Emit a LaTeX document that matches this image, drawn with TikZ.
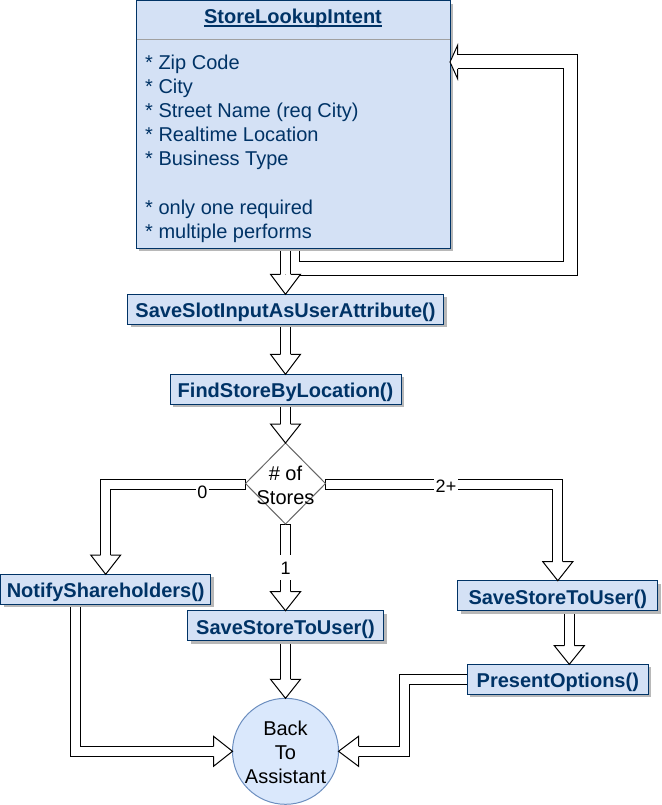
\documentclass[tikz,border=0pt]{standalone}
\usepackage{fontspec}
\setmainfont{Liberation Sans}
\usetikzlibrary{calc,shapes.geometric,shadows}
\definecolor{boxfill}{HTML}{D4E1F5}
\definecolor{boxline}{HTML}{003366}
\definecolor{ellfill}{HTML}{DAE8FC}
\definecolor{ellline}{HTML}{6C8EBF}
\definecolor{shade}{HTML}{B8B8B8}
\definecolor{diamline}{HTML}{666666}
\definecolor{sepline}{HTML}{A0A0A0}
\pgfdeclarelayer{arrowlayer}
\pgfsetlayers{arrowlayer,main}
% #1 tip, #2 rotation, #3 length, #4 half width, #5 shaft half width
\newcommand\fhead[5]{%
  \fill[white,shift={#1},rotate=#2] (0,0) -- (-#3,#4) -- (-#3,-#4) -- cycle;
  \draw[headline,shift={#1},rotate=#2] (-#3,#5) -- (-#3,#4) -- (0,0) -- (-#3,-#4) -- (-#3,-#5);}
\begin{document}
\begin{tikzpicture}[x=1pt,y=-1pt,
  shadowed/.style={drop shadow={shadow xshift=3pt,shadow yshift=-3pt,fill=shade,opacity=1}},
  procbox/.style={rectangle,draw=boxline,fill=boxfill,line width=1pt,text=boxline,
    font=\fontsize{20pt}{24pt}\selectfont\bfseries,minimum height=30pt,inner sep=0pt,
    outer sep=0pt,text height=17pt,text depth=0pt,shadowed},
  bodytext/.style={font=\fontsize{20pt}{24pt}\selectfont,text=boxline,anchor=base west,inner sep=0pt},
  plaintext/.style={font=\fontsize{20pt}{24pt}\selectfont,text=black,anchor=base,inner sep=0pt},
  lbl/.style={font=\fontsize{18pt}{21pt}\selectfont,fill=white,inner xsep=1.5pt,inner ysep=1pt,
    text height=13pt,text depth=0pt,anchor=base},
  shaft/.style={draw=black,line width=1pt,double=white,double distance=9pt,line join=miter},
  wideshaft/.style={shaft,double distance=13pt},
  headline/.style={draw=black,line width=1pt,line join=miter},
  capst/.style={draw=black,line width=1pt}]
\useasboundingbox (0,0) rectangle (661,805);

% ---------- nodes ----------
\node[rectangle,draw=boxline,fill=boxfill,line width=1pt,minimum width=314pt,minimum height=247pt,
  inner sep=0pt,outer sep=0pt,shadowed] (intent) at (293,124.5) {};
\node[font=\fontsize{20pt}{24pt}\selectfont\bfseries,text=boxline,anchor=base,inner sep=0pt]
  (title) at (293,23.5) {StoreLookupIntent};
\draw[boxline,line width=1.3pt] ($(title.base west)+(0,2.5)$) -- ($(title.base east)+(0,2.5)$);
\draw[sepline,line width=1pt] ($(intent.north west)+(0.5,38.5)$) -- ($(intent.north east)+(-0.5,38.5)$);
\node[bodytext] (b1) at (145,70) {* Zip Code};
\node[bodytext] (b2) at (145,94) {* City};
\node[bodytext] (b3) at (145,118) {* Street Name (req City)};
\node[bodytext] (b4) at (145,142) {* Realtime Location};
\node[bodytext] (b5) at (145,166) {* Business Type};
\node[bodytext] (b6) at (145,214) {* only one required};
\node[bodytext] (b7) at (145,238) {* multiple performs};

\node[procbox,minimum width=316pt] (saveslot) at (285.5,309.3) {SaveSlotInputAsUserAttribute()};
\node[procbox,minimum width=231pt] (findstore) at (285.5,389.3) {FindStoreByLocation()};
\node[diamond,draw=diamline,fill=white,line width=1pt,minimum width=80pt,minimum height=81pt,
  inner sep=0pt,outer sep=0pt] (diamond) at (285.5,483.5) {};
\node[plaintext] (d1) at (285.5,480) {\# of};
\node[plaintext] (d2) at (285.5,504) {Stores};
\node[procbox,minimum width=210pt] (notify) at (105.7,589.3) {NotifyShareholders()};
\node[procbox,minimum width=196pt] (savemid) at (285.5,625.7) {SaveStoreToUser()};
\node[procbox,minimum width=200pt] (saveright) at (557.8,595.7) {SaveStoreToUser()};
\node[procbox,minimum width=181pt] (present) at (557.8,679.3) {PresentOptions()};
\node[circle,draw=ellline,fill=ellfill,line width=1pt,minimum size=106pt,inner sep=0pt,
  outer sep=0pt] (ell) at (285.5,751.3) {};
\node[plaintext] (e1) at (285.5,735) {Back};
\node[plaintext] (e2) at (285.5,759) {To};
\node[plaintext] (e3) at (285.5,783) {Assistant};

% ---------- shafts ----------
\begin{pgfonlayer}{arrowlayer}
\draw[wideshaft] ($(intent.south)+(-0.7,0)$) |- (570,268) |- ($(intent.north east)+(7.5,61)$);
\draw[shaft] (saveslot.north |- intent.south) -- ($(saveslot.north)+(0,-20)$);
\draw[shaft] (saveslot.south) -- ($(findstore.north)+(0,-20)$);
\draw[shaft] (findstore.south) -- ($(diamond.north)+(0,-19)$);
\draw[shaft] ($(diamond.west)+(0,1)$) -| ($(notify.north)+(0,-19.3)$);
\draw[capst] ($(diamond.west)+(0,-4.5)$) -- ($(diamond.west)+(0,6.5)$);
\draw[shaft] ($(diamond.east)+(0,1)$) -| ($(saveright.north)+(0,-19)$);
\draw[capst] ($(diamond.east)+(0,-4.5)$) -- ($(diamond.east)+(0,6.5)$);
\draw[shaft] ($(diamond.south)+(0,0.5)$) -- ($(savemid.north)+(0,-19)$);
\draw[capst] ($(diamond.south)+(-5.5,0.5)$) -- ($(diamond.south)+(5.5,0.5)$);
\draw[shaft] (savemid.south) -- ($(ell.north)+(0,-19)$);
\draw[shaft] ($(notify.south)+(-30,0)$) |- ($(ell.west)+(-19,0)$);
\draw[shaft] (present.west) -| ($(ell.east)+(65.7,0)$) -- ($(ell.east)+(20,0)$);
\draw[shaft] ($(saveright.south)+(11.5,0)$) -- ($(present.north)+(11.5,-18.6)$);
\end{pgfonlayer}

% ---------- heads ----------
\fhead{($(intent.north east)+(0,61)$)}{180}{7.5}{16.5}{7}
\fhead{(saveslot.north)}{-90}{20}{15}{5}
\fhead{(findstore.north)}{-90}{20}{15}{5}
\fhead{(diamond.north)}{-90}{19}{15}{5}
\fhead{(notify.north)}{-90}{19.3}{15}{5}
\fhead{(saveright.north)}{-90}{19}{15}{5}
\fhead{(savemid.north)}{-90}{19}{15}{5}
\fhead{(ell.north)}{-90}{19}{15}{5}
\fhead{(ell.west)}{0}{19}{15}{5}
\fhead{(ell.east)}{180}{20}{15}{5}
\fhead{($(present.north)+(11.5,0)$)}{-90}{18.6}{15}{5}

% ---------- edge labels ----------
\node[lbl] (l0) at (202.3,498.3) {0};
\node[lbl,inner ysep=2.5pt,inner xsep=2pt] (l2) at (446,492.7) {2+};
\node[lbl,inner ysep=6pt] (l1) at (285.7,574.3) {1};
\end{tikzpicture}
\end{document}
